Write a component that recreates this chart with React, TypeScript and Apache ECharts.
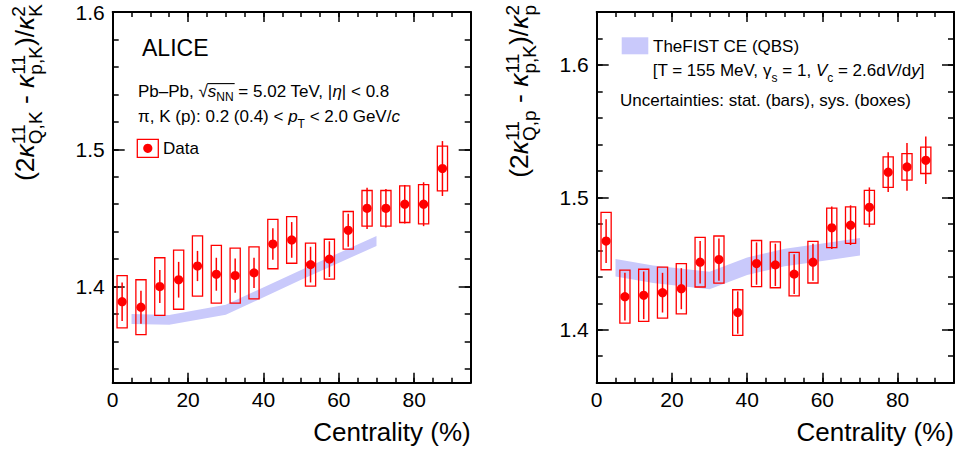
import React, { useEffect, useRef } from 'react';
import * as echarts from 'echarts';

// ---------------- data ----------------
const centrality = [2.5, 7.5, 12.5, 17.5, 22.5, 27.5, 32.5, 37.5, 42.5, 47.5, 52.5, 57.5, 62.5, 67.5, 72.5, 77.5, 82.5, 87.5];

const kaonValues = [1.389, 1.385, 1.400, 1.405, 1.415, 1.409, 1.408, 1.410, 1.431, 1.434, 1.416, 1.420, 1.441, 1.457, 1.457, 1.460, 1.460, 1.486];
const kaonStat = [0.014, 0.012, 0.012, 0.013, 0.011, 0.012, 0.0125, 0.011, 0.0115, 0.013, 0.013, 0.013, 0.012, 0.015, 0.014, 0.014, 0.016, 0.020];
const kaonSys = [0.019, 0.020, 0.021, 0.0215, 0.022, 0.021, 0.020, 0.019, 0.018, 0.017, 0.0156, 0.0145, 0.0137, 0.013, 0.013, 0.0133, 0.0143, 0.0163];

const protonValues = [1.467, 1.425, 1.426, 1.428, 1.431, 1.451, 1.453, 1.413, 1.450, 1.449, 1.442, 1.451, 1.477, 1.479, 1.4925, 1.519, 1.523, 1.528];
const protonStat = [0.0165, 0.018, 0.018, 0.015, 0.0155, 0.016, 0.016, 0.016, 0.016, 0.016, 0.015, 0.014, 0.016, 0.015, 0.015, 0.015, 0.018, 0.018];
const protonSys = [0.0217, 0.020, 0.0197, 0.0193, 0.019, 0.0187, 0.0178, 0.0172, 0.0174, 0.0173, 0.0164, 0.0157, 0.0149, 0.0138, 0.0127, 0.0115, 0.010, 0.010];

const kaonModelCentrality = [5, 15, 30, 50, 70];
const kaonModel = [1.3764, 1.3758, 1.3831, 1.4085, 1.4332];
const kaonModelHalfWidth = 0.0036;

const protonModelCentrality = [5, 15, 30, 40, 50, 60, 70];
const protonModel = [1.4468, 1.4420, 1.4372, 1.4480, 1.4545, 1.4585, 1.4627];
const protonModelHalfWidth = 0.0066;

const xTickLabels = [0, 20, 40, 60, 80];
const yTickLabels = [1.4, 1.5, 1.6];

// ---------------- style helpers ----------------
const FONT = '"Liberation Sans", Arial, Helvetica, sans-serif';
const RED = '#ff0000';
const BAND = '#c9c9fb';
const CENTRAL = 0.3465;
const BOX_HALF = 1.35;

let measureCtx: CanvasRenderingContext2D | null = null;
function tw(t: string, size: number, it = false): number {
  if (!measureCtx && typeof document !== 'undefined') {
    measureCtx = document.createElement('canvas').getContext('2d');
  }
  if (!measureCtx) return t.length * size * 0.55;
  measureCtx.font = `${it ? 'italic ' : ''}${size}px "Liberation Sans"`;
  return measureCtx.measureText(t).width;
}
function ascent(t: string, size: number): number {
  if (!measureCtx) tw(t, size);
  if (!measureCtx) return size * 0.8;
  measureCtx.font = `${size}px "Liberation Sans"`;
  const m = measureCtx.measureText(t);
  return (m as any).actualBoundingBoxAscent || size * 0.8;
}

type Spec = { t?: string; it?: boolean; sup?: string; sub?: string; subIt?: boolean };
type Item = { t: string; x: number; dy: number; size: number; it: boolean };

function layout(spec: Spec[], main: number, small: number, supDy: number, subDy: number) {
  const items: Item[] = [];
  let x = 0;
  for (const s of spec) {
    if (s.t !== undefined) {
      items.push({ t: s.t, x, dy: 0, size: main, it: !!s.it });
      x += tw(s.t, main, !!s.it);
    } else {
      let w = 0;
      if (s.sup) {
        items.push({ t: s.sup, x, dy: supDy, size: small, it: false });
        w = Math.max(w, tw(s.sup, small));
      }
      if (s.sub) {
        items.push({ t: s.sub, x, dy: subDy, size: small, it: !!s.subIt });
        w = Math.max(w, tw(s.sub, small, !!s.subIt));
      }
      x += w;
    }
  }
  return { items, width: x };
}

function txt(t: string, x: number, y: number, size: number, it = false, extra: any = {}) {
  return {
    type: 'text',
    x,
    y,
    silent: true,
    style: {
      text: t,
      fontSize: size,
      fontFamily: FONT,
      fontStyle: it ? 'italic' : 'normal',
      fill: '#000',
      align: 'left',
      verticalAlign: 'middle',
      ...extra,
    },
  };
}

function hline(spec: Spec[], x0: number, baseline: number, size: number, small: number, subDy: number) {
  const { items } = layout(spec, size, small, -0.4 * size, subDy);
  return items.map((it) => txt(it.t, x0 + it.x, baseline + it.dy - CENTRAL * it.size, it.size, it.it));
}

function yTitle(spec: Spec[], baseX: number, topEnd: number) {
  const { items, width } = layout(spec, 26.5, 19, -8.5, 8);
  return {
    type: 'group',
    x: baseX,
    y: topEnd + width,
    rotation: Math.PI / 2,
    silent: true,
    children: items.map((it) => txt(it.t, it.x, it.dy - CENTRAL * it.size, it.size, it.it)),
  };
}

// ---------------- axes ----------------
function isTick(v: number, list: number[]) {
  return list.some((t) => Math.abs(t - v) < 1e-6);
}

function xAxes(grid: number) {
  const base = {
    type: 'value',
    gridIndex: grid,
    min: 0,
    max: 95,
    splitLine: { show: false },
  };
  const line = { show: true, onZero: false, lineStyle: { color: '#000', width: 2 } };
  const noLine = { show: false, onZero: false };
  const tick = (len: number) => ({ show: true, inside: true, length: len, lineStyle: { color: '#000', width: 1.5 } });
  return [
    {
      ...base,
      position: 'bottom',
      interval: 20,
      axisLine: line,
      axisTick: tick(10),
      axisLabel: {
        show: true,
        formatter: (v: number) => (isTick(v, xTickLabels) ? String(v) : ''),
        fontSize: 21,
        fontFamily: FONT,
        color: '#000',
        margin: 6,
      },
    },
    { ...base, position: 'bottom', interval: 5, axisLine: noLine, axisTick: tick(5), axisLabel: { show: false } },
    { ...base, position: 'top', interval: 20, axisLine: line, axisTick: tick(10), axisLabel: { show: false } },
    { ...base, position: 'top', interval: 5, axisLine: noLine, axisTick: tick(5), axisLabel: { show: false } },
  ];
}

function yAxes(grid: number, min: number, max: number) {
  const base = {
    type: 'value',
    gridIndex: grid,
    min,
    max,
    splitLine: { show: false },
  };
  const line = { show: true, onZero: false, lineStyle: { color: '#000', width: 2 } };
  const noLine = { show: false, onZero: false };
  const tick = (len: number) => ({ show: true, inside: true, length: len, lineStyle: { color: '#000', width: 1.5 } });
  return [
    {
      ...base,
      position: 'left',
      minInterval: 0.1,
      maxInterval: 0.1,
      axisLine: line,
      axisTick: tick(12),
      axisLabel: {
        show: true,
        formatter: (v: number) => (isTick(v, yTickLabels) ? v.toFixed(1) : ''),
        fontSize: 21,
        fontFamily: FONT,
        color: '#000',
        margin: 8,
      },
    },
    { ...base, position: 'left', minInterval: 0.02, maxInterval: 0.02, axisLine: noLine, axisTick: tick(6), axisLabel: { show: false } },
    { ...base, position: 'right', minInterval: 0.1, maxInterval: 0.1, axisLine: line, axisTick: tick(12), axisLabel: { show: false } },
    { ...base, position: 'right', minInterval: 0.02, maxInterval: 0.02, axisLine: noLine, axisTick: tick(6), axisLabel: { show: false } },
  ];
}

// ---------------- series ----------------
function dataSeries(xi: number, yi: number, vals: number[], stat: number[], sys: number[]) {
  return {
    type: 'custom',
    xAxisIndex: xi,
    yAxisIndex: yi,
    silent: true,
    z: 3,
    data: centrality.map((c, i) => [c, vals[i], stat[i], sys[i]]),
    renderItem: (_params: any, api: any) => {
      const x = api.value(0);
      const y = api.value(1);
      const st = api.value(2);
      const sy = api.value(3);
      const p = api.coord([x, y]);
      const bl = api.coord([x - BOX_HALF, y - sy]);
      const tr = api.coord([x + BOX_HALF, y + sy]);
      const s1 = api.coord([x, y - st]);
      const s2 = api.coord([x, y + st]);
      return {
        type: 'group',
        children: [
          {
            type: 'rect',
            shape: { x: bl[0], y: tr[1], width: tr[0] - bl[0], height: bl[1] - tr[1] },
            style: { fill: 'none', stroke: RED, lineWidth: 1.3 },
          },
          {
            type: 'line',
            shape: { x1: s1[0], y1: s1[1], x2: s2[0], y2: s2[1] },
            style: { stroke: RED, lineWidth: 1.5 },
          },
          { type: 'circle', shape: { cx: p[0], cy: p[1], r: 4.6 }, style: { fill: RED } },
        ],
      };
    },
  };
}

function bandSeries(xi: number, yi: number, xs: number[], ys: number[], hw: number) {
  return {
    type: 'custom',
    xAxisIndex: xi,
    yAxisIndex: yi,
    silent: true,
    z: 2,
    data: xs.map((x, i) => [x, ys[i]]),
    renderItem: (params: any, api: any) => {
      if (params.dataIndex !== 0) return null;
      const up = xs.map((x, i) => api.coord([x, ys[i] + hw]));
      const lo = xs.map((x, i) => api.coord([x, ys[i] - hw])).reverse();
      return { type: 'polygon', shape: { points: up.concat(lo) }, style: { fill: BAND } };
    },
  };
}

// ---------------- graphic ----------------
function buildGraphic() {
  const els: any[] = [];
  // y titles
  els.push(
    yTitle(
      [{ t: '(2' }, { t: 'κ', it: true }, { sup: '11', sub: 'Q,K' }, { t: ' - ' }, { t: 'κ', it: true }, { sup: '11', sub: 'p,K' }, { t: ')/' }, { t: 'κ', it: true }, { sup: '2', sub: 'K' }],
      34,
      4
    )
  );
  els.push(
    yTitle(
      [{ t: '(2' }, { t: 'κ', it: true }, { sup: '11', sub: 'Q,p' }, { t: ' - ' }, { t: 'κ', it: true }, { sup: '11', sub: 'p,K' }, { t: ')/' }, { t: 'κ', it: true }, { sup: '2', sub: 'p' }],
      528,
      5
    )
  );
  // x titles
  els.push(txt('Centrality (%)', 470.7, 441 - CENTRAL * 26, 26, false, { align: 'right' }));
  els.push(txt('Centrality (%)', 954, 441 - CENTRAL * 26, 26, false, { align: 'right' }));

  // left annotations
  els.push(txt('ALICE', 142, 56 - CENTRAL * 23, 23));
  const l1x = 138;
  const l1b = 97;
  els.push(
    ...hline(
      [{ t: 'Pb–Pb, ' }, { t: '√' }, { t: 's', it: true }, { sub: 'NN' }, { t: ' = 5.02 TeV, |' }, { t: 'η', it: true }, { t: '| < 0.8' }],
      l1x,
      l1b,
      17,
      12,
      4
    )
  );
  const ovStart = l1x + tw('Pb–Pb, ', 17) + tw('√', 17) - 0.5;
  const ovEnd = ovStart + 0.5 + tw('s', 17, true) + tw('NN', 12) + 1;
  const ovY = l1b - ascent('√', 17) + 0.6;
  els.push({ type: 'line', silent: true, shape: { x1: ovStart, y1: ovY, x2: ovEnd, y2: ovY }, style: { stroke: '#000', lineWidth: 1.1 } });
  els.push(
    ...hline(
      [{ t: 'π, K (p): 0.2 (0.4) < ' }, { t: 'p', it: true }, { sub: 'T' }, { t: ' < 2.0 GeV/' }, { t: 'c', it: true }],
      138,
      122,
      17,
      12,
      6
    )
  );
  // Data legend
  els.push({ type: 'rect', silent: true, shape: { x: 137.3, y: 139.3, width: 21, height: 18 }, style: { fill: 'none', stroke: RED, lineWidth: 1.3 } });
  els.push({ type: 'circle', silent: true, shape: { cx: 147.8, cy: 148.3, r: 4.6 }, style: { fill: RED } });
  els.push(txt('Data', 163, 154 - CENTRAL * 17, 17));

  // right annotations
  els.push({ type: 'rect', silent: true, shape: { x: 621.7, y: 37.3, width: 26.6, height: 17 }, style: { fill: BAND } });
  els.push(txt('TheFIST CE (QBS)', 653, 52 - CENTRAL * 17, 17));
  els.push(
    ...hline(
      [{ t: '[T = 155 MeV, ' }, { t: 'γ' }, { sub: 's' }, { t: ' = 1, ' }, { t: 'V', it: true }, { sub: 'c' }, { t: ' = 2.6d' }, { t: 'V', it: true }, { t: '/d' }, { t: 'y', it: true }, { t: ']' }],
      652.7,
      76,
      17,
      12,
      6
    )
  );
  els.push(txt('Uncertainties: stat. (bars), sys. (boxes)', 620, 106 - CENTRAL * 17, 17));
  return els;
}

function buildOption() {
  return {
    animation: false,
    backgroundColor: '#ffffff',
    grid: [
      { left: 112.7, top: 12, width: 358, height: 370.7 },
      { left: 596.7, top: 12, width: 357.3, height: 370.7 },
    ],
    xAxis: [...xAxes(0), ...xAxes(1)],
    yAxis: [...yAxes(0, 1.33, 1.6), ...yAxes(1, 1.36, 1.64)],
    series: [
      bandSeries(0, 0, kaonModelCentrality, kaonModel, kaonModelHalfWidth),
      dataSeries(0, 0, kaonValues, kaonStat, kaonSys),
      bandSeries(4, 4, protonModelCentrality, protonModel, protonModelHalfWidth),
      dataSeries(4, 4, protonValues, protonStat, protonSys),
    ],
    graphic: { elements: buildGraphic() },
  };
}

export default function App() {
  const ref = useRef<HTMLDivElement>(null);
  useEffect(() => {
    if (!ref.current) return;
    const chart = echarts.init(ref.current, null, { renderer: 'svg' });
    chart.setOption(buildOption() as any);
    return () => {
      chart.dispose();
    };
  }, []);
  return (
    <div
      ref={ref}
      style={{ position: 'absolute', left: 0, top: 0, width: 957, height: 453, background: '#fff' }}
    />
  );
}
